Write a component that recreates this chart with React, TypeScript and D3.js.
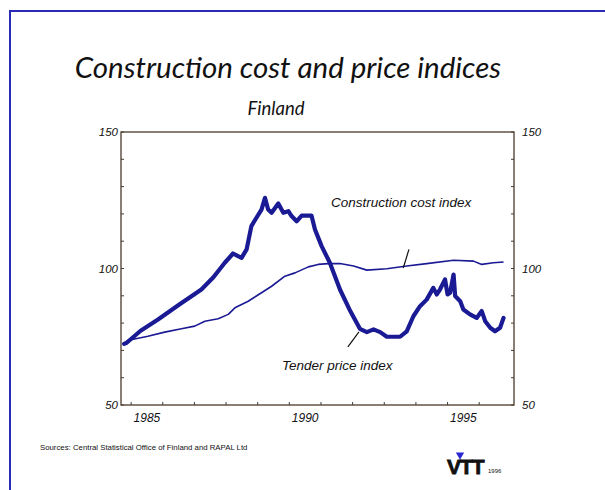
import React, { useEffect, useRef } from 'react';
import * as d3 from 'd3';

// Tender price index (thick line)
const tenderTime = [1984.78, 1984.86, 1985.3, 1985.85, 1986.5, 1987.22, 1987.6, 1987.96, 1988.22, 1988.38, 1988.49, 1988.65, 1988.8, 1988.96, 1989.12, 1989.23, 1989.33, 1989.44, 1989.65, 1989.81, 1989.97, 1990.07, 1990.23, 1990.39, 1990.7, 1990.81, 1991.02, 1991.28, 1991.6, 1991.9, 1992.23, 1992.45, 1992.66, 1992.87, 1993.08, 1993.5, 1993.71, 1993.92, 1994.13, 1994.34, 1994.55, 1994.66, 1994.76, 1994.92, 1995.0, 1995.08, 1995.19, 1995.24, 1995.4, 1995.5, 1995.71, 1995.92, 1996.08, 1996.19, 1996.35, 1996.5, 1996.66, 1996.77];
const tenderValue = [72.4, 72.8, 77.2, 81.3, 86.6, 92.3, 96.8, 102.1, 105.5, 104.5, 103.9, 107, 115.5, 118.6, 121.6, 125.9, 121.6, 120.4, 123.8, 120.4, 121, 119.2, 117.3, 119.4, 119.4, 114.3, 108.2, 102.1, 92.3, 85, 77.9, 76.7, 77.7, 76.7, 75, 75, 77, 82.5, 86.2, 88.6, 92.9, 90.5, 92.3, 96, 90.5, 91.1, 97.8, 89.9, 88, 85, 83.2, 81.9, 84.4, 80.7, 78.3, 77, 78.3, 81.9];

// Construction cost index (thin line)
const costTime = [1984.8, 1984.9, 1985.11, 1985.53, 1986.06, 1986.59, 1987.01, 1987.33, 1987.75, 1988.07, 1988.28, 1988.7, 1989.12, 1989.44, 1989.86, 1990.18, 1990.6, 1990.91, 1991.23, 1991.6, 1992.03, 1992.45, 1993.08, 1993.71, 1994.34, 1995.19, 1995.82, 1996.08, 1996.45, 1996.77];
const costValue = [72.6, 73.7, 74.2, 75.2, 76.7, 77.9, 78.9, 80.7, 81.6, 83.2, 85.6, 88, 91.1, 93.5, 97.2, 98.4, 100.6, 101.5, 101.8, 101.8, 100.9, 99.4, 99.9, 100.9, 101.8, 103, 102.7, 101.5, 102.1, 102.4];

const yTicks = [50, 100, 150];
const yMinor = [60, 70, 80, 90, 110, 120, 130, 140];
const xTicks = [1985, 1986, 1987, 1988, 1989, 1990, 1991, 1992, 1993, 1994, 1995, 1996];
const xLabels = [1985, 1990, 1995];

const App = () => {
  const svgRef = useRef<SVGSVGElement>(null);

  useEffect(() => {
    const width = 605;
    const height = 490;
    const left = 121, right = 514, top = 132, bottom = 405;
    const blue = '#1a1a94';
    const axisCol = '#4a3a2c';

    const svg = d3.select(svgRef.current)
      .attr('width', width)
      .attr('height', height)
      .style('position', 'absolute')
      .style('left', 0)
      .style('top', 0)
      .style('background', '#fff');
    svg.selectAll('*').remove();

    const x = d3.scaleLinear().domain([1984.68, 1997.1]).range([left, right]);
    const y = d3.scaleLinear().domain([50, 150]).range([bottom, top]);

    // slide frame
    svg.append('rect')
      .attr('x', 10).attr('y', 11)
      .attr('width', 620).attr('height', 500)
      .attr('fill', 'none')
      .attr('stroke', '#2a2ab8')
      .attr('stroke-width', 2);

    svg.append('text')
      .attr('x', 288).attr('y', 78)
      .attr('text-anchor', 'middle')
      .attr('font-family', 'Lato, sans-serif')
      .attr('font-style', 'italic')
      .attr('font-size', 29.5)
      .attr('fill', '#111')
      .text('Construction cost and price indices');

    svg.append('text')
      .attr('x', 276).attr('y', 115)
      .attr('text-anchor', 'middle')
      .attr('font-family', 'Lato, sans-serif')
      .attr('font-style', 'italic')
      .attr('font-size', 18.5)
      .attr('fill', '#111')
      .text('Finland');

    // plot box
    svg.append('rect')
      .attr('x', left).attr('y', top)
      .attr('width', right - left).attr('height', bottom - top)
      .attr('fill', 'none')
      .attr('stroke', axisCol)
      .attr('stroke-width', 1.3);

    const ticks = svg.append('g').attr('stroke', axisCol).attr('stroke-width', 1);
    ticks.selectAll('.xt').data(xTicks).join('line')
      .attr('x1', d => x(d)).attr('x2', d => x(d))
      .attr('y1', bottom).attr('y2', bottom - 3);
    ticks.selectAll('.yl').data(yMinor.concat(yTicks)).join('line')
      .attr('x1', left).attr('x2', left + 3)
      .attr('y1', d => y(d)).attr('y2', d => y(d));
    ticks.selectAll('.yr').data(yMinor.concat(yTicks)).join('line')
      .attr('x1', right).attr('x2', right - 3)
      .attr('y1', d => y(d)).attr('y2', d => y(d));

    const labelFont = 'Liberation Sans, Arial, sans-serif';
    svg.append('g').selectAll('text').data(yTicks).join('text')
      .attr('x', left - 3).attr('y', d => y(d)).attr('dy', '0.35em')
      .attr('text-anchor', 'end')
      .attr('font-family', labelFont).attr('font-style', 'italic').attr('font-size', 11.5)
      .attr('fill', '#111')
      .text(d => d);
    svg.append('g').selectAll('text').data(yTicks).join('text')
      .attr('x', right + 8).attr('y', d => y(d)).attr('dy', '0.35em')
      .attr('font-family', labelFont).attr('font-style', 'italic').attr('font-size', 11.5)
      .attr('fill', '#111')
      .text(d => d);
    svg.append('g').selectAll('text').data(xLabels).join('text')
      .attr('x', d => x(d + 0.5)).attr('y', 422)
      .attr('text-anchor', 'middle')
      .attr('font-family', labelFont).attr('font-style', 'italic').attr('font-size', 12)
      .attr('fill', '#111')
      .text(d => d);

    const cost = costTime.map((t, i) => [x(t), y(costValue[i])] as [number, number]);
    const tender = tenderTime.map((t, i) => [x(t), y(tenderValue[i])] as [number, number]);
    const path = d3.line<[number, number]>().x(d => d[0]).y(d => d[1]);

    svg.append('path')
      .attr('d', path(cost))
      .attr('fill', 'none')
      .attr('stroke', blue)
      .attr('stroke-width', 1.6)
      .attr('stroke-linejoin', 'round');

    svg.append('path')
      .attr('d', path(tender))
      .attr('fill', 'none')
      .attr('stroke', blue)
      .attr('stroke-width', 4.2)
      .attr('stroke-linejoin', 'round')
      .attr('stroke-linecap', 'round');

    // annotations
    svg.append('text')
      .attr('x', 331).attr('y', 207)
      .attr('font-family', labelFont).attr('font-style', 'italic').attr('font-size', 13.5)
      .attr('fill', '#111')
      .text('Construction cost index');
    svg.append('line')
      .attr('x1', x(1993.6)).attr('y1', y(100.2))
      .attr('x2', x(1993.78)).attr('y2', y(107))
      .attr('stroke', '#111').attr('stroke-width', 1.2);

    svg.append('text')
      .attr('x', 282).attr('y', 370)
      .attr('font-family', labelFont).attr('font-style', 'italic').attr('font-size', 13.5)
      .attr('fill', '#111')
      .text('Tender price index');
    svg.append('line')
      .attr('x1', x(1991.85)).attr('y1', y(71.3))
      .attr('x2', x(1992.2)).attr('y2', y(76.8))
      .attr('stroke', '#111').attr('stroke-width', 1.2);

    svg.append('text')
      .attr('x', 40).attr('y', 450)
      .attr('font-family', labelFont).attr('font-size', 7.8)
      .attr('fill', '#111')
      .text('Sources: Central Statistical Office of Finland and RAPAL Ltd');

    // VTT logo
    svg.append('text')
      .attr('x', 447).attr('y', 474)
      .attr('font-family', labelFont).attr('font-weight', 'bold').attr('font-size', 21)
      .attr('letter-spacing', -1)
      .attr('stroke', '#111').attr('stroke-width', 0.8)
      .attr('fill', '#111')
      .text('VTT');
    svg.append('path')
      .attr('d', d3.symbol(d3.symbolTriangle, 30)())
      .attr('transform', 'translate(460,455) rotate(180)')
      .attr('fill', '#2a2ad0');
    svg.append('text')
      .attr('x', 488).attr('y', 473)
      .attr('font-family', labelFont).attr('font-size', 6)
      .attr('fill', '#111')
      .text('1996');
  }, []);

  return <svg ref={svgRef}></svg>;
};

export default App;
